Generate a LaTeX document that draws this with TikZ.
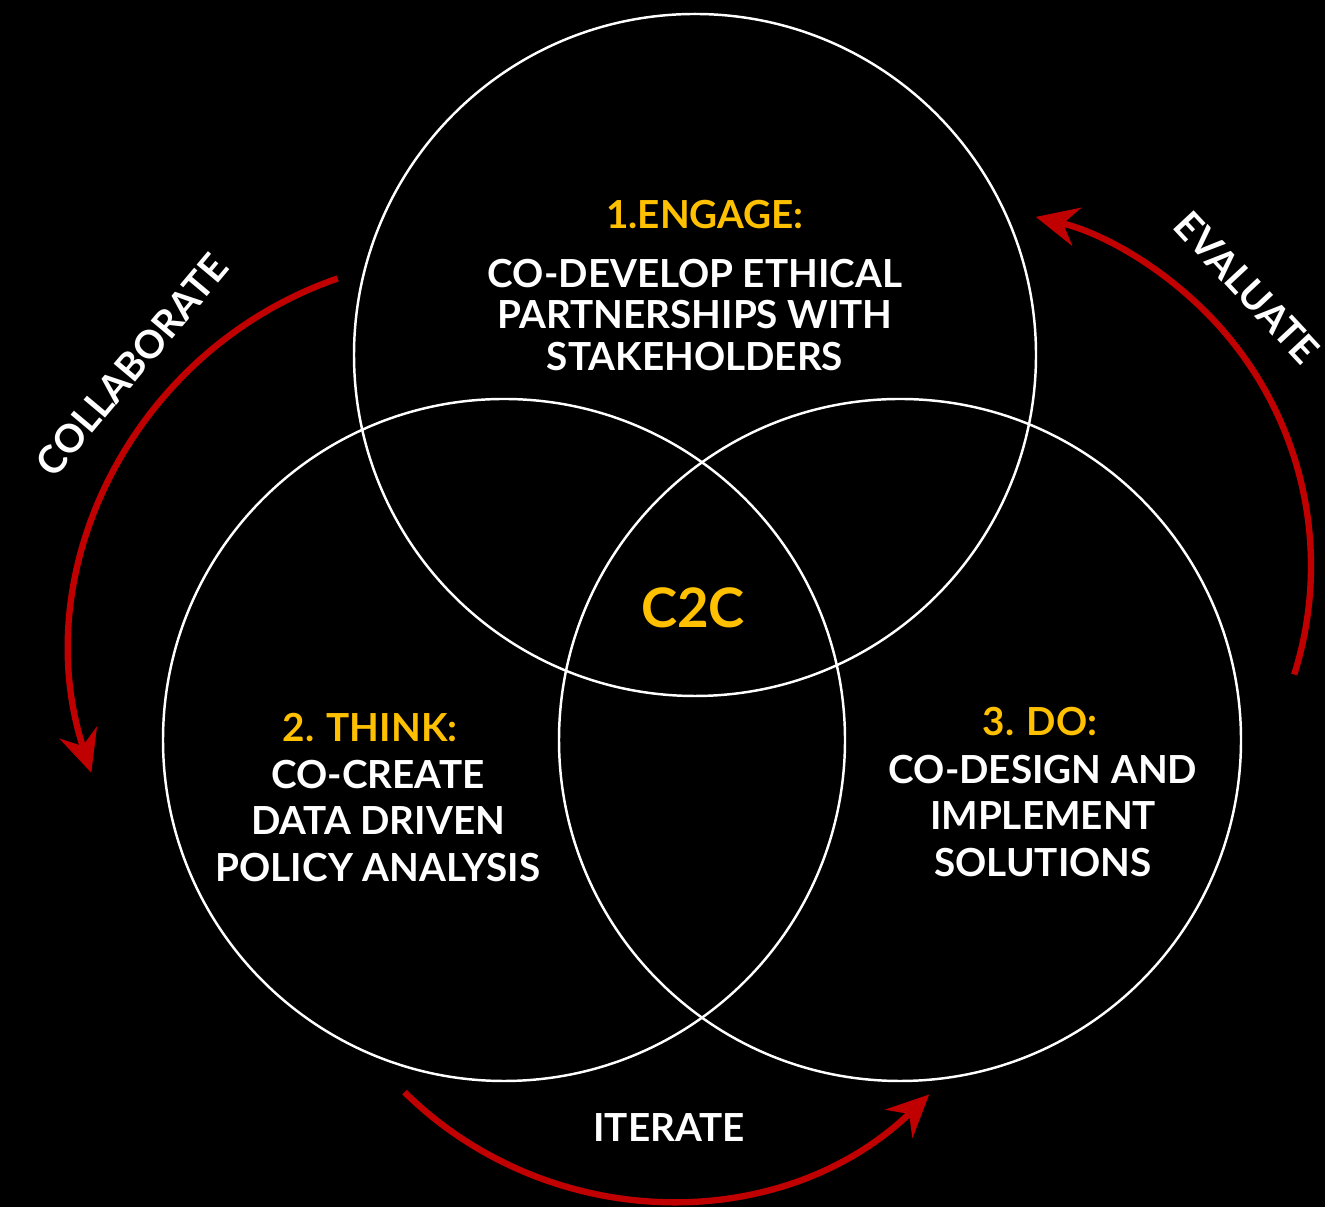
\documentclass[tikz,border=0pt]{standalone}
\usepackage{fontspec}
\setmainfont{Lato}
\usetikzlibrary{arrows.meta,positioning}
\definecolor{c2cred}{RGB}{192,0,0}
\definecolor{c2cgold}{RGB}{255,192,0}
\tikzstyle{ring} = [draw=white, line width=0.7pt, circle, minimum size=6.82cm, inner sep=0pt]
\tikzstyle{cyclearrow} = [c2cred, line width=1.8pt, -{Stealth[length=4.2mm,width=3.9mm,inset=1.4mm]}]
\tikzstyle{steptitle} = [text=c2cgold, font=\bfseries\fontsize{11}{13}\selectfont]
\tikzstyle{steptext} = [text=white, align=center, font=\bfseries\fontsize{11}{11.7}\selectfont]
\tikzstyle{cyclelabel} = [text=white, font=\bfseries\fontsize{11}{13}\selectfont]

\begin{document}
\begin{tikzpicture}
\fill[black] (0,0) rectangle (13.25,12.07);
\useasboundingbox (0,0) rectangle (13.25,12.07);
% the three circles
\node[ring] (engage) at (6.95,8.52) {};
\node[ring] (think) at (5.04,4.67) {};
\node[ring] (do) at (9.00,4.67) {};
% texts inside
\node[steptitle] (engagetitle) at (7.05,9.92) {1.ENGAGE:};
\node[steptext] (engagetext) at (6.95,8.92) {CO-DEVELOP ETHICAL\\PARTNERSHIPS WITH\\STAKEHOLDERS};
\node[steptitle] (thinktitle) at (3.70,4.79) {2. THINK:};
\node[steptext, font=\bfseries\fontsize{11}{13.1}\selectfont] (thinktext) at (3.78,3.86) {CO-CREATE\\DATA DRIVEN\\POLICY ANALYSIS};
\node[steptitle] (dotitle) at (10.40,4.85) {3. DO:};
\node[steptext, font=\bfseries\fontsize{11}{13.1}\selectfont] (dotext) at (10.43,3.91) {CO-DESIGN AND\\IMPLEMENT\\SOLUTIONS};
\node[steptitle, font=\bfseries\fontsize{15.5}{18}\selectfont] (core) at (6.93,5.99) {C2C};
% red cycle arrows
\draw[cyclearrow] (4.66,5.56) ++(109:3.94) arc[start angle=109, end angle=198, radius=3.94];
\draw[cyclearrow] (9.52,6.41) ++(-17.6:3.59) arc[start angle=-17.6, end angle=76.5, radius=3.59];
\draw[cyclearrow] (6.68,3.83) ++(225.5:3.76) arc[start angle=225.5, end angle=314, radius=3.76];
\node[cyclelabel, rotate=50] (collab) at (1.32,8.42) {COLLABORATE};
\node[cyclelabel, rotate=-47] (evaluate) at (12.47,9.19) {EVALUATE};
\node[cyclelabel] (iterate) at (6.69,0.79) {ITERATE};
\end{tikzpicture}
\end{document}
